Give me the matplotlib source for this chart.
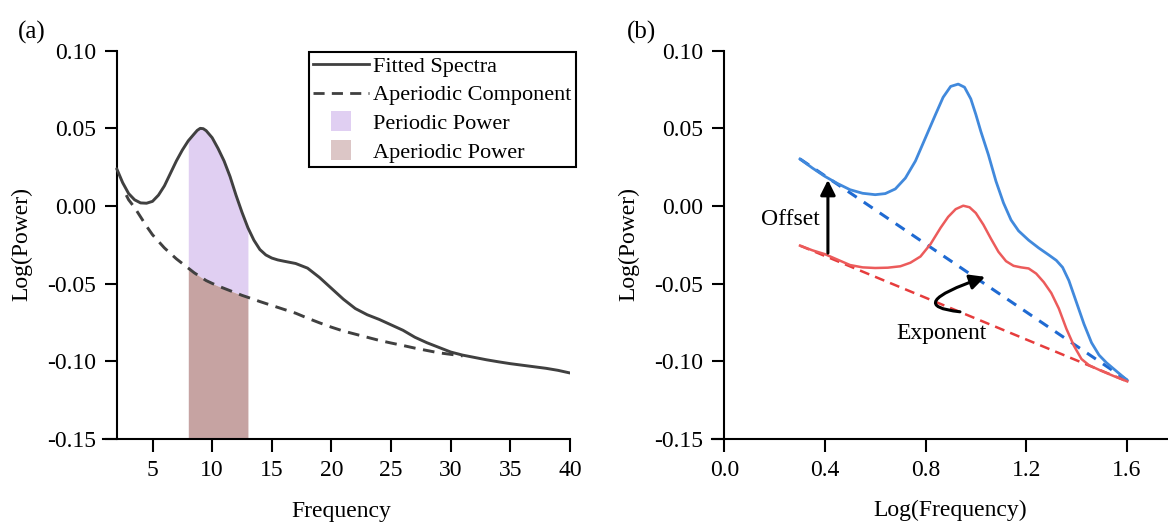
import numpy as np
import matplotlib
matplotlib.use("Agg")
import matplotlib.pyplot as plt
from matplotlib.lines import Line2D
from matplotlib.patches import FancyArrowPatch
from matplotlib.path import Path

plt.rcParams['font.family'] = ['Liberation Serif', 'DejaVu Serif']
plt.rcParams['font.size'] = 17

# ---------------- Panel (a) data ----------------
freq_fit = [2.0, 2.5, 3.0, 3.5, 4.0, 4.5, 5.0, 5.5, 6.0, 6.5, 7.0, 7.5, 8.0, 8.5, 8.75,
            9.0, 9.25, 9.5, 10.0, 10.5, 11.0, 11.5, 12.0, 12.5, 13.0, 13.5, 14.0, 14.5,
            15.0, 15.5, 16.0, 17.0, 18.0, 19.0, 20.0, 21.0, 22.0, 23.0, 24.0, 25.0,
            26.0, 27.0, 28.0, 29.0, 30.0, 31.0, 32.0, 33.0, 34.0, 35.0, 36.0, 37.0,
            38.0, 39.0, 40.0]
fitted = [0.024, 0.015, 0.008, 0.004, 0.002, 0.0018, 0.003, 0.007, 0.013, 0.021, 0.029,
          0.036, 0.042, 0.0465, 0.0487, 0.050, 0.0498, 0.0485, 0.044, 0.037, 0.029,
          0.019, 0.007, -0.004, -0.014, -0.022, -0.028, -0.0315, -0.0335, -0.0347,
          -0.0355, -0.037, -0.040, -0.046, -0.053, -0.060, -0.066, -0.070, -0.073,
          -0.0765, -0.080, -0.0845, -0.088, -0.091, -0.094, -0.096, -0.0975, -0.099,
          -0.1003, -0.1015, -0.1025, -0.1035, -0.1045, -0.1058, -0.1075]

freq_ap = [2.8, 3.0, 3.5, 4.0, 4.5, 5.0, 6.0, 7.0, 8.0, 8.5, 9.0, 9.5, 10.0, 10.5, 11.0,
           11.5, 12.0, 12.5, 13.0, 14.0, 15.0, 16.0, 17.0, 18.0, 19.0, 20.0, 21.0, 22.0,
           23.0, 24.0, 25.0, 26.0, 27.0, 28.0, 29.0, 30.0, 31.0]
aperiodic = [0.007, 0.004, -0.001, -0.007, -0.013, -0.0185, -0.027, -0.034, -0.040,
             -0.043, -0.0455, -0.048, -0.0498, -0.0515, -0.053, -0.0545, -0.056, -0.0575,
             -0.0588, -0.0615, -0.064, -0.0665, -0.069, -0.0722, -0.0752, -0.078, -0.0805,
             -0.0825, -0.0845, -0.0865, -0.0882, -0.0898, -0.0915, -0.093, -0.0945,
             -0.0955, -0.0965]

band_lo, band_hi = 8.0, 13.0

# ---------------- Panel (b) data ----------------
logf_blue = [0.301, 0.35, 0.40, 0.45, 0.50, 0.55, 0.60, 0.64, 0.68, 0.72, 0.76, 0.80,
             0.84, 0.87, 0.90, 0.93, 0.955, 0.98, 1.00, 1.02, 1.05, 1.08, 1.11, 1.14,
             1.17, 1.21, 1.25, 1.29, 1.32, 1.345, 1.37, 1.40, 1.43, 1.46, 1.49, 1.52,
             1.56, 1.602]
blue = [0.0303, 0.0245, 0.0191, 0.0145, 0.0105, 0.0082, 0.0073, 0.0080, 0.0110, 0.0180,
        0.0290, 0.0440, 0.0590, 0.0700, 0.0770, 0.0785, 0.0765, 0.0690, 0.0590, 0.0480,
        0.0330, 0.0160, 0.0020, -0.0090, -0.0160, -0.0220, -0.0270, -0.0315, -0.0350,
        -0.0395, -0.0480, -0.0620, -0.0760, -0.0880, -0.0960, -0.1010, -0.1065, -0.1122]
logf_red = [0.301, 0.35, 0.40, 0.45, 0.50, 0.55, 0.60, 0.65, 0.70, 0.74, 0.78, 0.82,
            0.86, 0.89, 0.92, 0.95, 0.975, 1.00, 1.03, 1.06, 1.09, 1.12, 1.15, 1.18,
            1.21, 1.24, 1.27, 1.30, 1.33, 1.36, 1.39, 1.42, 1.45, 1.50, 1.55, 1.602]
red = [-0.0255, -0.0285, -0.0310, -0.0345, -0.0380, -0.0395, -0.0399, -0.0397, -0.0388,
       -0.0365, -0.0325, -0.0245, -0.0140, -0.0070, -0.0020, 0.0002, -0.0008, -0.0045,
       -0.0120, -0.0210, -0.0295, -0.0355, -0.0385, -0.0395, -0.0402, -0.0435, -0.0490,
       -0.0560, -0.0660, -0.0790, -0.0900, -0.0985, -0.1025, -0.1062, -0.1096, -0.1129]
blue_ap_x = [0.301, 1.602]
blue_ap = [0.0303, -0.1122]
red_ap_x = [0.301, 1.602]
red_ap = [-0.0255, -0.1129]

yticks = [0.10, 0.05, 0.00, -0.05, -0.10, -0.15]
ytick_labels = ['0.10', '0.05', '0.00', '-0.05', '-0.10', '-0.15']
xticks_a = [5, 10, 15, 20, 25, 30, 35, 40]
xticks_b = [0.0, 0.4, 0.8, 1.2, 1.6]
xtick_labels_b = ['0.0', '0.4', '0.8', '1.2', '1.6']

LINE = '#404040'
PURPLE = '#e0cff2'
BROWN = '#c6a3a2'
BLUE = '#4189dc'
BLUE_D = '#1f6ad2'
RED = '#ec5b5b'
RED_D = '#e63c3c'

FS = 17

W, H = 1168, 523
fig = plt.figure(figsize=(W / 100, H / 100), dpi=100)

def px_ax(left, right, top, bottom):
    return [left / W, 1 - bottom / H, (right - left) / W, (bottom - top) / H]

ax1 = fig.add_axes(px_ax(103, 570, 50.7, 439))
ax2 = fig.add_axes(px_ax(711.7, 1168, 50.7, 439))

def style(ax, spine_x):
    for s in ['top', 'right']:
        ax.spines[s].set_visible(False)
    for s in ['left', 'bottom']:
        ax.spines[s].set_linewidth(1.5)
        ax.spines[s].set_color('black')
    ax.spines['left'].set_position(('data', spine_x))
    ax.set_ylim(-0.15, 0.10)
    ax.set_yticks(yticks)
    ax.set_yticklabels(ytick_labels)
    ax.tick_params(axis='both', direction='out', length=9, width=1.5,
                   colors='black', labelsize=FS)
    ax.tick_params(axis='y', pad=6)
    ax.tick_params(axis='x', pad=6)

# ---- panel (a)
a_f = np.array(freq_fit)
a_y = np.array(fitted)
p_f = np.array(freq_ap)
p_y = np.array(aperiodic)

mfit = (a_f >= band_lo) & (a_f <= band_hi) & np.isin(a_f, p_f)
map_ = (p_f >= band_lo) & (p_f <= band_hi)
ax1.fill_between(p_f[map_], p_y[map_], a_y[mfit], color=PURPLE, linewidth=0, zorder=1)
ax1.fill_between(p_f[map_], -0.15, p_y[map_], color=BROWN, linewidth=0, zorder=1)

ax1.plot(a_f, a_y, color=LINE, lw=2.1, zorder=3, solid_capstyle='round')
ax1.plot(p_f, p_y, color=LINE, lw=2.1, ls=(0, (4, 2.6)), zorder=2)
ax1.set_xlim(0.85, 40)
style(ax1, 2)
ax1.set_xticks(xticks_a)
ax1.set_xlabel('Frequency', fontsize=FS)
ax1.xaxis.set_label_coords(0.511, -0.187)
ax1.xaxis.label.set_va('center')
ax1.set_ylabel('Log(Power)', fontsize=FS)
ax1.yaxis.set_label_coords(-0.174, 0.503)
ax1.yaxis.label.set_va('center')

handles = [
    Line2D([], [], color=LINE, lw=2.0),
    Line2D([], [], color=LINE, lw=2.0, ls=(0, (4, 2.6))),
    Line2D([], [], marker='s', ls='none', markersize=15, color=PURPLE, markeredgewidth=0),
    Line2D([], [], marker='s', ls='none', markersize=15, color='#dcc6c6', markeredgewidth=0),
]
labels = ['Fitted Spectra', 'Aperiodic Component', 'Periodic Power', 'Aperiodic Power']
leg = fig.legend(handles, labels, loc='upper right',
                 bbox_to_anchor=(576 / W, 1 - 51.7 / H), bbox_transform=fig.transFigure,
                 borderaxespad=0, fancybox=False, framealpha=1, edgecolor='black',
                 fontsize=16, handlelength=2.5, handletextpad=0.2, labelspacing=0.37,
                 borderpad=0.2)
leg.get_frame().set_linewidth(1.5)

# ---- panel (b)
ax2.plot(blue_ap_x, blue_ap, color=BLUE_D, lw=2.2, ls=(0, (3.5, 2.8)), zorder=2)
ax2.plot(red_ap_x, red_ap, color=RED_D, lw=1.8, ls=(0, (4, 2.5)), zorder=2)
ax2.plot(logf_blue, blue, color=BLUE, lw=2.0, zorder=3)
ax2.plot(logf_red, red, color=RED, lw=1.8, zorder=3)
ax2.set_xlim(-0.05, 1.764)
style(ax2, 0)
ax2.set_xticks(xticks_b)
ax2.set_xticklabels(xtick_labels_b)
ax2.set_xlabel('Log(Frequency)', fontsize=FS)
ax2.xaxis.set_label_coords(0.522, -0.183)
ax2.xaxis.label.set_va('center')
ax2.set_ylabel('Log(Power)', fontsize=FS)
ax2.yaxis.set_label_coords(-0.181, 0.503)
ax2.yaxis.label.set_va('center')

# Offset arrow
ax2.add_patch(FancyArrowPatch((0.412, -0.0303), (0.412, 0.0168),
                              arrowstyle='-|>,head_length=9,head_width=4.5',
                              color='black', lw=2.2, shrinkA=0, shrinkB=0, zorder=4))
ax2.text(0.38, -0.0086, 'Offset', ha='right', va='center', fontsize=FS)

# Exponent curved arrow (quadratic curve: tail -> control -> head)
exp_path = Path([(0.937, -0.0681), (0.705, -0.0641), (1.037, -0.0456)],
                [Path.MOVETO, Path.CURVE3, Path.CURVE3])
ax2.add_patch(FancyArrowPatch(path=exp_path,
                              arrowstyle='-|>,head_length=9,head_width=4.5',
                              color='black', lw=2.2, shrinkA=0, shrinkB=0, zorder=4))
ax2.text(0.862, -0.0818, 'Exponent', ha='center', va='center', fontsize=FS)

fig.text(32 / W, 1 - 32 / H, '(a)', ha='center', va='center', fontsize=18)
fig.text(642 / W, 1 - 32 / H, '(b)', ha='center', va='center', fontsize=18)

fig.savefig('out.png', dpi=100)
